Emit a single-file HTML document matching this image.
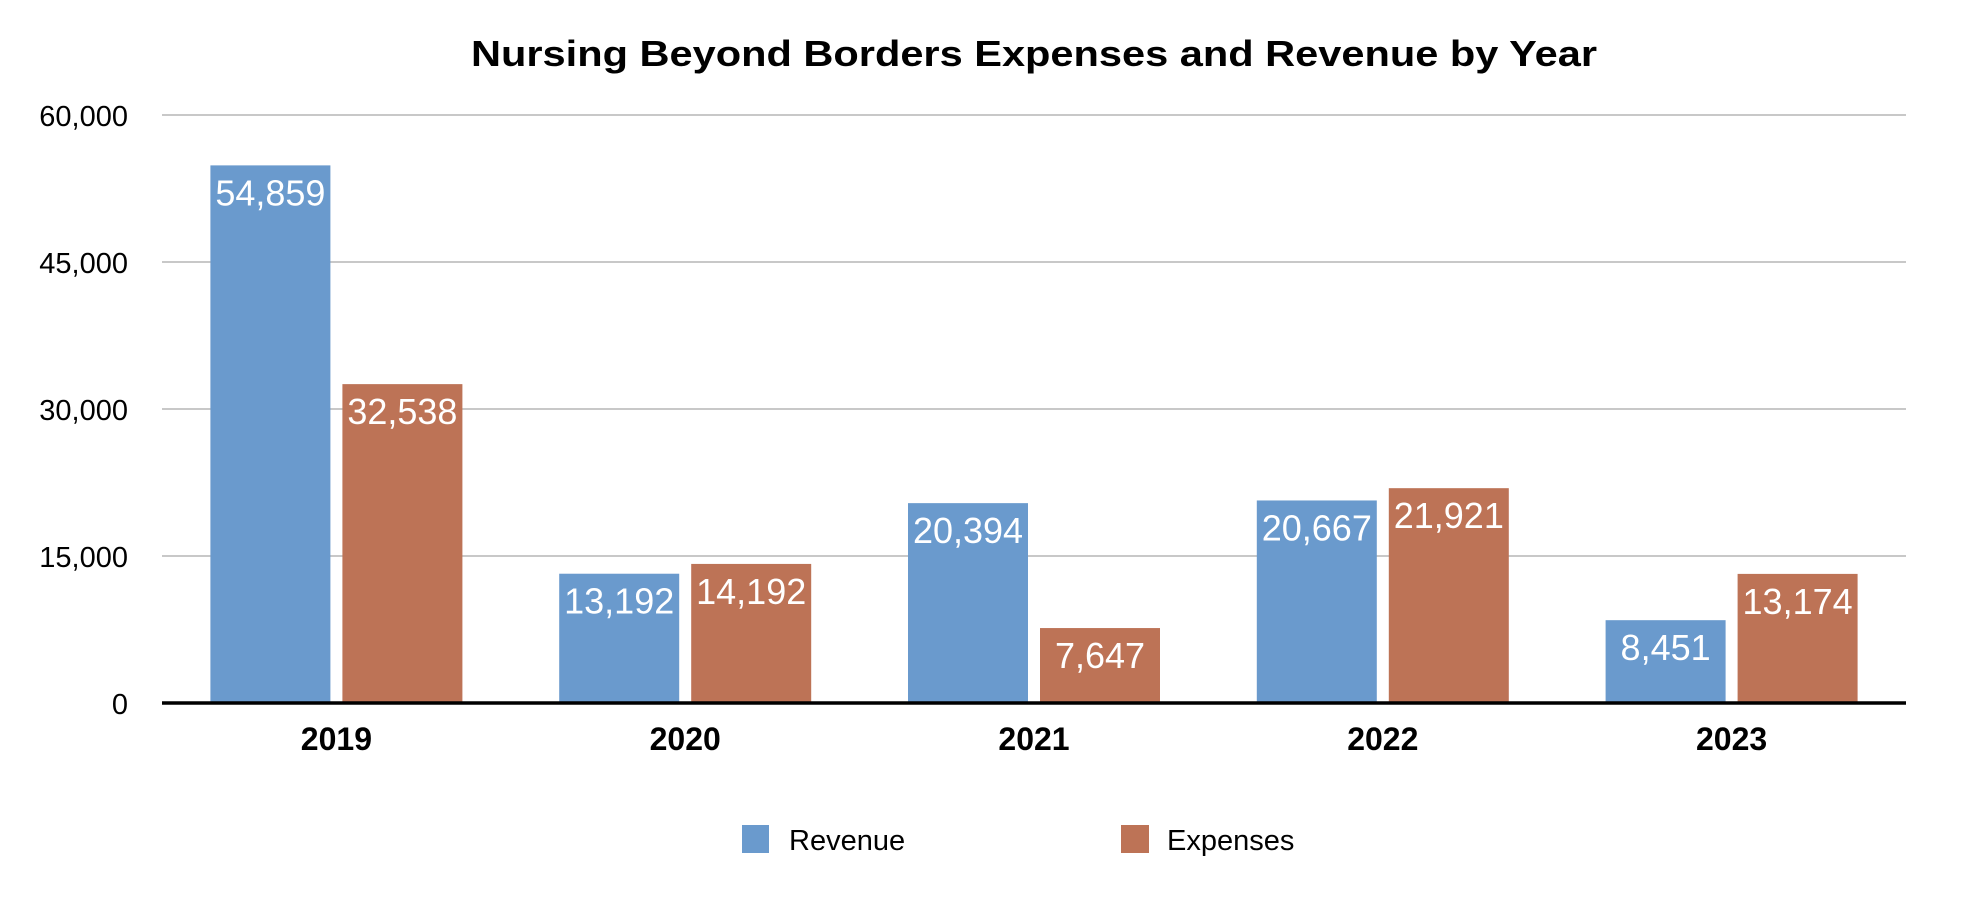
<!DOCTYPE html>
<html><head><meta charset="utf-8"><style>
html,body{margin:0;padding:0;background:#fff;}
svg{display:block;font-family:"Liberation Sans",Arial,sans-serif;}
</style></head><body>
<svg id="chart" width="1970" height="900" viewBox="0 0 1970 900">
<text x="1034" y="66" text-anchor="middle" font-size="36" font-weight="bold" textLength="1126" lengthAdjust="spacingAndGlyphs">Nursing Beyond Borders Expenses and Revenue by Year</text>
<g id="grid"></g>
<g id="bars"></g>
<g id="labels"></g>
<line x1="162" y1="703" x2="1906" y2="703" stroke="#000" stroke-width="3.5"/>
<g>
<rect x="742" y="825" width="27" height="28" fill="#6a9acd"/>
<text x="789" y="850" font-size="29">Revenue</text>
<rect x="1121" y="825" width="28" height="28" fill="#bd7356"/>
<text x="1167" y="850" font-size="29">Expenses</text>
</g>
</svg>
<script>
const categories = ["2019","2020","2021","2022","2023"];
const revenue = [54859,13192,20394,20667,8451];
const expenses = [32538,14192,7647,21921,13174];
const yTicks = [0,15000,30000,45000,60000];

const NS="http://www.w3.org/2000/svg";
const left=162,right=1906,y0=703,yTop=115,yMax=60000;
const band=(right-left)/categories.length;
function yScale(v){return y0-(v/yMax)*(y0-yTop);}
function xCenter(i){return left+band*(i+0.5);}
function fmt(v){return v.toLocaleString("en-US");}
function mk(tag,attrs,parent){const e=document.createElementNS(NS,tag);for(const k in attrs)e.setAttribute(k,attrs[k]);parent.appendChild(e);return e;}
const grid=document.getElementById("grid"),bars=document.getElementById("bars"),labels=document.getElementById("labels");
yTicks.forEach(t=>{
  const y=yScale(t);
  if(t>0){
    const l=mk("line",{x1:left,x2:right,y1:y,y2:y,stroke:"#c8c8c8","stroke-width":2},grid);
    
    
  }
  const tx=mk("text",{x:128,y:y+11,"text-anchor":"end","font-size":29,fill:"#000"},labels);
  tx.textContent=fmt(t);
  
  
});
const series=[{vals:revenue,color:"#6a9acd",off:-126,name:"revenue"},{vals:expenses,color:"#bd7356",off:6,name:"expenses"}];
categories.forEach((c,i)=>{
  const cx=xCenter(i);
  series.forEach(s=>{
    const v=s.vals[i],top=yScale(v);
    const r=mk("rect",{x:cx+s.off,y:top,width:120,height:y0-top,fill:s.color},bars);
    
    
    const t=mk("text",{x:cx+s.off+60,y:top+40,"text-anchor":"middle","font-size":36,fill:"#fff"},labels);
    t.textContent=fmt(v);
    
    
  });
  const xl=mk("text",{x:cx,y:750,"text-anchor":"middle","font-size":32,"font-weight":"bold",fill:"#000"},labels);
  xl.textContent=c;
  
  
});
</script>
</body></html>
